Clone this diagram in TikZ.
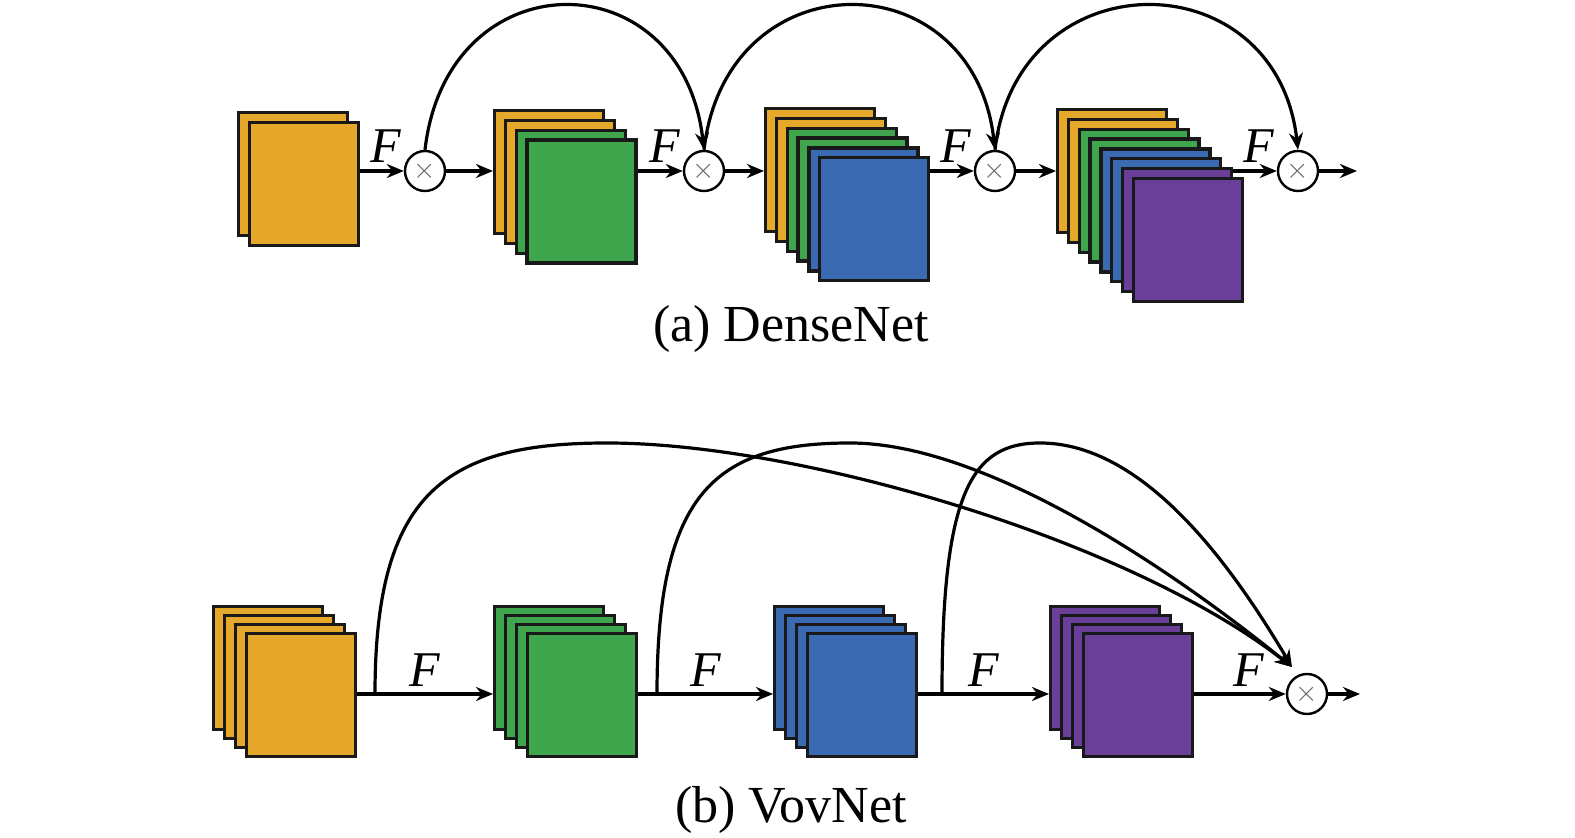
\documentclass[tikz,border=0pt]{standalone}
\usepackage{fontspec}
\setmainfont{Liberation Serif}
\usetikzlibrary{arrows.meta,backgrounds,positioning}
\definecolor{yel}{RGB}{230,168,42}
\definecolor{grn}{RGB}{64,166,78}
\definecolor{blu}{RGB}{58,106,177}
\definecolor{pur}{RGB}{105,63,153}

\begin{document}
\begin{tikzpicture}[x=0.5pt,y=-0.5pt]
\tikzstyle{layer} = [rectangle, draw=black!90, line width=1.7pt, minimum width=54.5pt, minimum height=61.5pt, anchor=north west, inner sep=0pt]
\tikzstyle{mult} = [circle, draw=black, line width=1.2pt, fill=white, minimum size=20pt, inner sep=0pt, text=black!60, font=\Large]
\tikzstyle{line} = [draw, line width=1.6pt, -{Stealth[length=8.5pt,width=7pt]}]
\tikzstyle{flabel} = [font=\fontsize{25}{25}\selectfont\itshape, inner sep=3pt]
\tikzstyle{caption} = [font=\fontsize{26}{30}\selectfont, anchor=base]

\useasboundingbox (0,0) rectangle (1575,838);

% (a) DenseNet
\foreach \i/\c in {0/yel,1/yel}
  \node[layer, fill=\c] (a1-\i) at ({237+\i*10.8},{111+\i*9.8}) {};
\foreach \i/\c in {0/yel,1/yel,2/grn,3/grn}
  \node[layer, fill=\c] (a2-\i) at ({493+\i*10.8},{109+\i*9.8}) {};
\foreach \i/\c in {0/yel,1/yel,2/grn,3/grn,4/blu,5/blu}
  \node[layer, fill=\c] (a3-\i) at ({764+\i*10.8},{107+\i*9.8}) {};
\foreach \i/\c in {0/yel,1/yel,2/grn,3/grn,4/blu,5/blu,6/pur,7/pur}
  \node[layer, fill=\c] (a4-\i) at ({1056+\i*10.8},{108+\i*9.8}) {};

\node[mult] (m1) at (425,171) {$\times$};
\node[mult] (m2) at (704,171) {$\times$};
\node[mult] (m3) at (995,171) {$\times$};
\node[mult] (m4) at (1298,171) {$\times$};
\coordinate (aout) at (1357,171);

\foreach \m in {m1,m2,m3,m4}
  \node[flabel, above left=1pt and -2pt of \m.west] {F};

\begin{pgfonlayer}{background}
	\path[line] (a1-0 |- m1) -- (m1);
	\path[line] (a2-0 |- m2) -- (m2);
	\path[line] (a3-0 |- m3) -- (m3);
	\path[line] (a4-0 |- m4) -- (m4);
\end{pgfonlayer}
\path[line] (m1) -- (m1 -| a2-0.west);
\path[line] (m2) -- (m2 -| a3-0.west);
\path[line] (m3) -- (m3 -| a4-0.west);
\path[line] (m4) -- (aout);
\path[line] (m1.north) .. controls +(22,-192) and +(-22,-192) .. (m2.north);
\path[line] (m2.north) .. controls +(22,-192) and +(-22,-192) .. (m3.north);
\path[line] (m3.north) .. controls +(22,-192) and +(-22,-192) .. (m4.north);

\node[caption] (capa) at (791,342) {(a) DenseNet};

% (b) VovNet
\foreach \i in {0,...,3}
  \node[layer, fill=yel] (b1-\i) at ({212+\i*11},{605+\i*9}) {};
\foreach \i in {0,...,3}
  \node[layer, fill=grn] (b2-\i) at ({493+\i*11},{605+\i*9}) {};
\foreach \i in {0,...,3}
  \node[layer, fill=blu] (b3-\i) at ({773+\i*11},{605+\i*9}) {};
\foreach \i in {0,...,3}
  \node[layer, fill=pur] (b4-\i) at ({1049+\i*11},{605+\i*9}) {};

\node[mult] (mb) at (1307,694) {$\times$};
\coordinate (bout) at (1360,694);
\coordinate (br1) at (375,694);
\coordinate (br2) at (657,694);
\coordinate (br3) at (942,694);
\coordinate (tip) at ([shift={(-15,-27)}]mb.center);

\path[line] (b1-3.east |- mb) -- node[flabel, above] {F} (b2-0.west |- mb);
\path[line] (b2-3.east |- mb) -- node[flabel, above] {F} (b3-0.west |- mb);
\path[line] (b3-3.east |- mb) -- node[flabel, above] {F} (b4-0.west |- mb);
\path[line] (b4-3.east |- mb) -- node[flabel, above, pos=0.6] {F} (mb);
\path[line] (mb) -- (bout);

\path[line] (br1) .. controls (375,493) and (445,443) .. (607,443)
	.. controls (800,443) and (1130,540) .. (tip);
\path[line] (br2) .. controls (657,493) and (715,443) .. (850,443)
	.. controls (980,443) and (1160,560) .. (tip);
\path[line] (br3) .. controls (942,493) and (971,443) .. (1040,443)
	.. controls (1150,443) and (1240,580) .. (tip);

\node[caption] (capb) at (791,823) {(b) VovNet};
\end{tikzpicture}
\end{document}
